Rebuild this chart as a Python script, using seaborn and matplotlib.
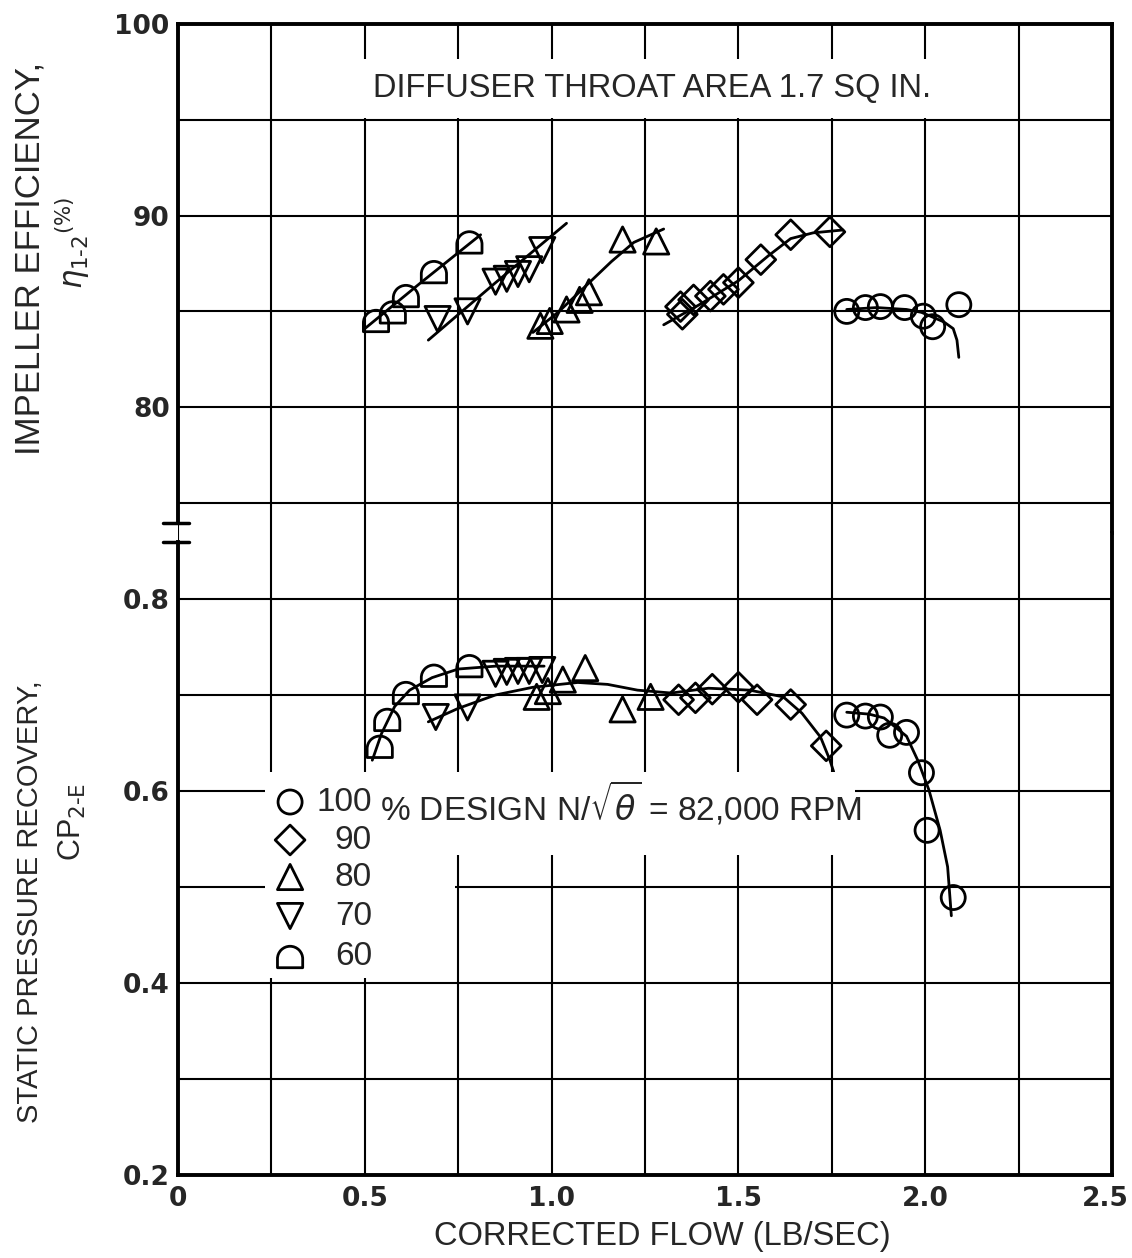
import numpy as np
import pandas as pd
import matplotlib
matplotlib.use("Agg")
import matplotlib.pyplot as plt
from matplotlib.path import Path
from matplotlib.patches import Rectangle
from matplotlib.transforms import ScaledTranslation
import seaborn as sns

# ---------------- data ----------------
speeds = ["100", "90", "80", "70", "60"]

# impeller efficiency (%)
flow_eff_100 = [1.79, 1.84, 1.88, 1.945, 1.995, 2.02, 2.09]
eff_100 = [85.0, 85.2, 85.25, 85.2, 84.75, 84.2, 85.35]
flow_eff_90 = [1.345, 1.35, 1.38, 1.425, 1.46, 1.50, 1.56, 1.64, 1.745]
eff_90 = [85.25, 84.85, 85.6, 85.8, 86.15, 86.5, 87.7, 89.0, 89.15]
flow_eff_80 = [0.97, 0.995, 1.04, 1.075, 1.10, 1.19, 1.28]
eff_80 = [84.25, 84.5, 85.1, 85.6, 86.0, 88.75, 88.65]
flow_eff_70 = [0.695, 0.775, 0.85, 0.88, 0.91, 0.94, 0.975]
eff_70 = [84.6, 85.0, 86.55, 86.7, 86.95, 87.2, 88.2]
flow_eff_60 = [0.53, 0.575, 0.61, 0.685, 0.78]
eff_60 = [84.5, 84.95, 85.8, 87.05, 88.6]

# static pressure recovery CP2-E
flow_cp_100 = [1.79, 1.84, 1.88, 1.905, 1.95, 1.99, 2.005, 2.075]
cp_100 = [0.679, 0.678, 0.677, 0.658, 0.661, 0.619, 0.559, 0.489]
flow_cp_90 = [1.34, 1.385, 1.43, 1.50, 1.55, 1.64, 1.735]
cp_90 = [0.695, 0.697, 0.706, 0.708, 0.695, 0.690, 0.647]
flow_cp_80 = [0.96, 0.99, 1.03, 1.09, 1.19, 1.265]
cp_80 = [0.698, 0.704, 0.716, 0.728, 0.685, 0.698]
flow_cp_70 = [0.69, 0.775, 0.85, 0.88, 0.91, 0.94, 0.975]
cp_70 = [0.677, 0.687, 0.722, 0.724, 0.725, 0.725, 0.726]
flow_cp_60 = [0.54, 0.56, 0.61, 0.685, 0.78]
cp_60 = [0.646, 0.674, 0.702, 0.72, 0.73]

# faired curves
curve_eff_60_x = [0.50, 0.65, 0.81]
curve_eff_60_y = [84.1, 86.5, 89.0]
curve_eff_70_x = [0.67, 0.85, 1.04]
curve_eff_70_y = [83.5, 86.5, 89.6]
curve_eff_80_x = [0.95, 1.02, 1.09, 1.16, 1.22, 1.30]
curve_eff_80_y = [83.9, 85.0, 86.3, 87.6, 88.6, 89.3]
curve_eff_90_x = [1.30, 1.40, 1.50, 1.58, 1.64, 1.70, 1.78]
curve_eff_90_y = [84.3, 85.4, 86.6, 87.9, 88.8, 89.1, 89.25]
curve_eff_100_x = [1.79, 1.87, 1.95, 1.99, 2.05, 2.075, 2.085, 2.09]
curve_eff_100_y = [85.1, 85.2, 85.1, 84.95, 84.45, 84.1, 83.5, 82.6]

curve_cp_60_x = [0.52, 0.545, 0.58, 0.62, 0.68, 0.75, 0.85, 0.98]
curve_cp_60_y = [0.632, 0.66, 0.688, 0.705, 0.718, 0.727, 0.73, 0.73]
curve_cp_main_x = [0.67, 0.75, 0.85, 0.95, 1.07, 1.15, 1.23, 1.32, 1.42, 1.53, 1.62, 1.67, 1.72, 1.745, 1.755]
curve_cp_main_y = [0.672, 0.686, 0.700, 0.708, 0.713, 0.711, 0.705, 0.702, 0.707, 0.705, 0.698, 0.681, 0.656, 0.632, 0.62]
curve_cp_100_x = [1.79, 1.85, 1.89, 1.95, 1.98, 2.01, 2.04, 2.06, 2.07]
curve_cp_100_y = [0.682, 0.680, 0.676, 0.657, 0.632, 0.601, 0.559, 0.521, 0.47]

x_ticks = [0, 0.5, 1.0, 1.5, 2.0, 2.5]
x_ticklabels = ["0", "0.5", "1.0", "1.5", "2.0", "2.5"]
eff_ticks = [80, 90, 100]
cp_ticks = [0.2, 0.4, 0.6, 0.8]
cp_ticklabels = ["0.2", "0.4", "0.6", "0.8"]

# ---------------- tables ----------------
def frame(pairs):
    rows = []
    for sp, xs, ys in pairs:
        for a, b in zip(xs, ys):
            rows.append({"flow": a, "value": b, "speed": sp})
    return pd.DataFrame(rows)

df_eff = frame([("100", flow_eff_100, eff_100), ("90", flow_eff_90, eff_90),
                ("80", flow_eff_80, eff_80), ("70", flow_eff_70, eff_70),
                ("60", flow_eff_60, eff_60)])
df_cp = frame([("100", flow_cp_100, cp_100), ("90", flow_cp_90, cp_90),
               ("80", flow_cp_80, cp_80), ("70", flow_cp_70, cp_70),
               ("60", flow_cp_60, cp_60)])

# ---------------- style ----------------
sns.set_theme(style="white")
plt.rcParams["font.family"] = ["DejaVu Sans"]
TXT = ["Liberation Sans", "DejaVu Sans"]

# dome marker (flat bottom, rounded top)
arc = Path.arc(0, 180)
av = arc.vertices + np.array([0.0, -0.15])
dverts = [(-1, -0.85), (1, -0.85)] + [tuple(v) for v in av] + [(-1, -0.85)]
dcodes = [Path.MOVETO, Path.LINETO, Path.LINETO] + list(arc.codes[1:]) + [Path.CLOSEPOLY]
dome = Path(dverts, dcodes)

marker_map = {"100": "o", "90": "D", "80": "^", "70": "v", "60": dome}
marker_size = {"100": 300, "90": 230, "80": 330, "70": 330, "60": 330}

W, H = 1132, 1258
fig = plt.figure(figsize=(W / 100, H / 100), dpi=100)
L, R = 178 / W, 1112 / W
y_top, y_break, y_bot = 1 - 24 / H, 1 - 532.5 / H, 1 - 1175 / H
ax_t = fig.add_axes([L, y_break, R - L, y_top - y_break])
ax_b = fig.add_axes([L, y_bot, R - L, y_break - y_bot])

eff_lo = 73.46
cp_hi = 0.8692
ax_t.set_ylim(eff_lo, 100)
ax_b.set_ylim(0.2, cp_hi)
for ax in (ax_t, ax_b):
    ax.set_xlim(0, 2.5)
    ax.set_facecolor("white")
    ax.set_xticks(x_ticks)
    ax.set_xticks(np.arange(0.25, 2.5, 0.5), minor=True)
    ax.grid(True, which="both", color="black", linewidth=1.5)
    ax.set_axisbelow(True)
    ax.tick_params(which="both", length=0, labelsize=19, pad=6)
    for s in ax.spines.values():
        s.set_color("black")
        s.set_linewidth(2.8)

ax_t.set_yticks(eff_ticks)
ax_t.set_yticks([75, 85, 95], minor=True)
ax_t.set_yticklabels([str(t) for t in eff_ticks], fontweight="bold")
ax_t.tick_params(axis="x", labelbottom=False)
ax_t.spines["bottom"].set_visible(False)
ax_t.spines["left"].set_bounds(73.96, 100)

ax_b.set_yticks(cp_ticks)
ax_b.set_yticks([0.3, 0.5, 0.7], minor=True)
ax_b.set_yticklabels(cp_ticklabels, fontweight="bold")
ax_b.set_xticklabels(x_ticklabels, fontweight="bold")
ax_b.tick_params(axis="x", pad=8)
ax_b.spines["top"].set_visible(False)
ax_b.spines["left"].set_bounds(0.2, 0.859)
last = ax_b.get_xticklabels()[-1]
last.set_transform(last.get_transform() + ScaledTranslation(-0.07, 0, fig.dpi_scale_trans))

# axis break marks
ax_t.plot([-0.016, 0.012], [73.96, 73.96], transform=ax_t.get_yaxis_transform(),
          color="black", lw=2.5, clip_on=False, zorder=5)
ax_b.plot([-0.016, 0.012], [0.859, 0.859], transform=ax_b.get_yaxis_transform(),
          color="black", lw=2.5, clip_on=False, zorder=5)

# ---------------- curves ----------------
line_kw = dict(color="black", linewidth=2.0, sort=False, estimator=None)
for cx, cy in [(curve_eff_60_x, curve_eff_60_y), (curve_eff_70_x, curve_eff_70_y),
               (curve_eff_80_x, curve_eff_80_y), (curve_eff_90_x, curve_eff_90_y),
               (curve_eff_100_x, curve_eff_100_y)]:
    sns.lineplot(x=cx, y=cy, ax=ax_t, **line_kw)
for cx, cy in [(curve_cp_60_x, curve_cp_60_y), (curve_cp_main_x, curve_cp_main_y),
               (curve_cp_100_x, curve_cp_100_y)]:
    sns.lineplot(x=cx, y=cy, ax=ax_b, **line_kw)

# ---------------- points ----------------
for ax, df in [(ax_t, df_eff), (ax_b, df_cp)]:
    for sp in speeds:
        sub = df[df["speed"] == sp]
        sns.scatterplot(data=sub, x="flow", y="value", marker=marker_map[sp],
                        s=marker_size[sp], facecolor="none", edgecolor="black",
                        linewidth=2.0, ax=ax, legend=False, zorder=4)
    ax.set_xlabel("")
    ax.set_ylabel("")

# ---------------- annotation text ----------------
ax_t.text(0.508, 0.874, "DIFFUSER THROAT AREA 1.7 SQ IN.", transform=ax_t.transAxes,
          ha="center", va="center", fontsize=23.5, family=TXT, zorder=3,
          bbox=dict(facecolor="white", edgecolor="none", pad=10))

# legend block (white patch over the grid)
ax_b.add_patch(Rectangle((0.093, 0.498), 0.632, 0.129, transform=ax_b.transAxes,
                         facecolor="white", edgecolor="none", zorder=3))
ax_b.add_patch(Rectangle((0.093, 0.307), 0.204, 0.192, transform=ax_b.transAxes,
                         facecolor="white", edgecolor="none", zorder=3))
leg_rows = [0.5805, 0.5214, 0.4638, 0.4031, 0.3393]
for sp, yy in zip(speeds, leg_rows):
    ax_b.scatter([0.12], [yy], transform=ax_b.transAxes, marker=marker_map[sp],
                 s=marker_size[sp], facecolor="none", edgecolor="black",
                 linewidth=2.0, zorder=4, clip_on=False)
    ax_b.text(0.2077, yy, sp, transform=ax_b.transAxes, ha="right", va="center",
              fontsize=24, family=TXT, zorder=4)
ax_b.text(0.216, leg_rows[0], r"% DESIGN N/$\sqrt{\theta}$ = 82,000 RPM",
          transform=ax_b.transAxes, ha="left", va="center", fontsize=24,
          family=TXT, zorder=4)

# axis labels
fig.text(30 / W, 1 - 258 / H, "IMPELLER EFFICIENCY,", rotation=90, ha="center",
         va="center", fontsize=25, family=TXT)
fig.text(72 / W, 1 - 243 / H, r"$\eta_{1\text{-}2}$$^{(\%)}$", rotation=90,
         ha="center", va="center", fontsize=22, family=TXT)
fig.text(30 / W, 1 - 902 / H, "STATIC PRESSURE RECOVERY,", rotation=90, ha="center",
         va="center", fontsize=21, family=TXT)
fig.text(72 / W, 1 - 822 / H, r"CP$_{2\text{-}\mathrm{E}}$", rotation=90,
         ha="center", va="center", fontsize=22, family=TXT)
fig.text(662 / W, 1 - 1236 / H, "CORRECTED FLOW (LB/SEC)", ha="center",
         va="center", fontsize=23.5, family=TXT)

fig.savefig("out.png", dpi=100, facecolor="white")
